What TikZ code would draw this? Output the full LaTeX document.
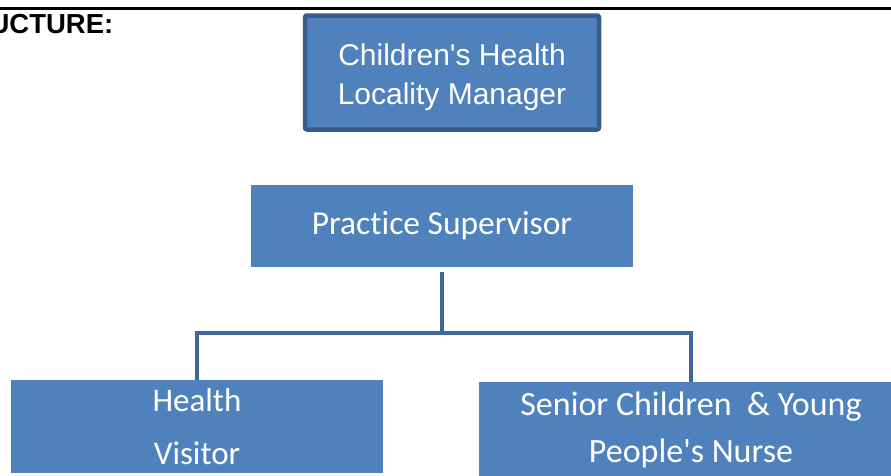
\documentclass[tikz,border=0pt]{standalone}
\usepackage{fontspec}
\setmainfont{Liberation Sans}
\newfontfamily\calib[Ligatures=NoCommon]{Carlito}
\newfontfamily\arial{Liberation Sans}
\definecolor{boxfill}{HTML}{4F81BD}
\definecolor{boxline}{HTML}{385D8A}
\definecolor{connline}{HTML}{3F6797}
\tikzset{
  orgbox/.style={rectangle, fill=boxfill, text=white, inner sep=0pt, align=center},
  conn/.style={draw=connline, line width=4.5pt},
}
\begin{document}
\begin{tikzpicture}[x=1pt,y=-1pt]
\useasboundingbox (0,0) rectangle (891,475);
% top rule and heading
\coordinate (ruleL) at (0,8.3);
\coordinate (ruleR) at (891,8.3);
\draw[line width=3.3pt] (ruleL) -- (ruleR);
\node[anchor=base east, inner sep=0pt, font=\arial\bfseries\fontsize{27.5}{30}\selectfont] (head) at (113.5,33) {STRUCTURE:};
% boxes
\node[orgbox, draw=boxline, line width=4.5pt, rounded corners=2pt, minimum width=294pt, minimum height=114pt,
      font=\arial\fontsize{30}{39}\selectfont] (mgr) at (452,72.5) {\rule{0pt}{32pt}Children's Health\\Locality Manager};
\node[orgbox, minimum width=382pt, minimum height=82pt, font=\calib\fontsize{33.5}{38}\selectfont] (ps) at (442,226) {Practice Supervisor};
\node[orgbox, minimum width=372pt, minimum height=93pt, font=\calib\fontsize{33}{53}\selectfont] (hv) at (197,426.5) {Health\\Visitor};
\node[orgbox, minimum width=424pt, minimum height=96pt, font=\calib\fontsize{34}{47}\selectfont] (sn) at (691,430) {Senior Children\ \ \& Young\\People's Nurse};
% connectors
\coordinate (j) at (442,333);
\draw[conn] ([yshift=-5pt]ps.south) -- (j);
\draw[conn] (hv.north) |- (j) -| (sn.north);
\end{tikzpicture}
\end{document}
